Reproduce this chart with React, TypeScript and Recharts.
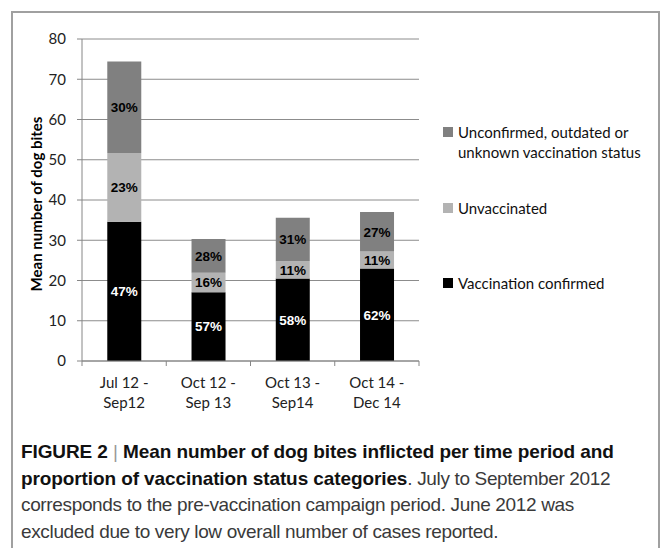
import React from 'react';
import {
  BarChart,
  Bar,
  XAxis,
  YAxis,
  CartesianGrid,
  LabelList
} from 'recharts';

// two-line period labels under each bar
const periodTop = ['Jul 12 -', 'Oct 12 -', 'Oct 13 -', 'Oct 14 -'];
const periodBottom = ['Sep12', 'Sep 13', 'Sep14', 'Dec 14'];

// mean number of bites per vaccination status (stack bottom to top)
const confirmed = [34.6, 17.1, 20.5, 23.0];
const unvaccinated = [17.1, 4.8, 4.3, 4.2];
const unconfirmed = [22.7, 8.4, 10.8, 9.8];

// share of each status within a period, in %
const confirmedPct = [47, 57, 58, 62];
const unvaccinatedPct = [23, 16, 11, 11];
const unconfirmedPct = [30, 28, 31, 27];

const yTicks = [0, 10, 20, 30, 40, 50, 60, 70, 80];

const seriesNames = {
  confirmed: 'Vaccination confirmed',
  unvaccinated: 'Unvaccinated',
  unconfirmed: 'Unconfirmed, outdated or unknown vaccination status'
};
const seriesColors = {
  confirmed: '#000000',
  unvaccinated: '#b3b3b3',
  unconfirmed: '#808080'
};

const data = periodTop.map((p, i) => ({
  period: p + ' ' + periodBottom[i],
  confirmed: confirmed[i],
  unvaccinated: unvaccinated[i],
  unconfirmed: unconfirmed[i],
  confirmedPct: confirmedPct[i],
  unvaccinatedPct: unvaccinatedPct[i],
  unconfirmedPct: unconfirmedPct[i]
}));

const axisGray = '#868686';
const excelFont = 'Lato, "DejaVu Sans", sans-serif';
const labelFont = '"Liberation Sans", Arial, sans-serif';

function PeriodTick(props: any) {
  const { x, y, payload, index, visibleTicksCount } = props;
  const half = payload && payload.offset ? payload.offset : 42;
  const last = index === visibleTicksCount - 1;
  return (
    <g>
      <line x1={x - half} x2={x - half} y1={y} y2={y + 5} stroke={axisGray} />
      {last && <line x1={x + half} x2={x + half} y1={y} y2={y + 5} stroke={axisGray} />}
      <text
        x={x}
        y={y}
        textAnchor='middle'
        fontFamily={excelFont}
        fontSize={15}
        fill='#222'
      >
        <tspan x={x} dy={27}>{periodTop[index]}</tspan>
        <tspan x={x} dy={20}>{periodBottom[index]}</tspan>
      </text>
    </g>
  );
}

function YTitle(props: any) {
  const { viewBox } = props;
  const cx = 36;
  const cy = viewBox.y + viewBox.height / 2 + 4;
  return (
    <text
      x={cx}
      y={cy}
      transform={`rotate(-90, ${cx}, ${cy})`}
      textAnchor='middle'
      dominantBaseline='central'
      fontFamily={excelFont}
      fontWeight='bold'
      fontSize={15}
      fill='#000'
    >
      Mean number of dog bites
    </text>
  );
}

const pctLabel = (v: any) => v + '%';

function LegendBlock() {
  const items: Array<keyof typeof seriesNames> = ['unconfirmed', 'unvaccinated', 'confirmed'];
  return (
    <div
      style={{
        position: 'absolute',
        left: 443,
        top: 122,
        width: 212,
        fontFamily: excelFont,
        fontSize: 15,
        color: '#111',
        lineHeight: '20px'
      }}
    >
      {items.map(k => (
        <div key={k} style={{ position: 'relative', height: 75.5 }}>
          <span
            style={{
              position: 'absolute',
              left: 0,
              top: 5,
              width: 10,
              height: 10,
              background: seriesColors[k]
            }}
          />
          <div style={{ marginLeft: 15, width: 195 }}>{seriesNames[k]}</div>
        </div>
      ))}
    </div>
  );
}

export default function App() {
  const plain = { letterSpacing: -0.35 };
  return (
    <div
      style={{
        position: 'absolute',
        left: 0,
        top: 0,
        width: 664,
        height: 548,
        overflow: 'hidden',
        background: '#fff'
      }}
    >
      <div
        style={{
          position: 'absolute',
          left: 11,
          top: 11,
          width: 645,
          height: 600,
          border: '2px solid #a0a0a0'
        }}
      />
      <div style={{ position: 'absolute', left: 0, top: 0 }}>
        <BarChart
          width={664}
          height={420}
          data={data}
          margin={{ top: 39, right: 245, bottom: 9, left: 0 }}
          barCategoryGap='30%'
        >
          <CartesianGrid horizontal vertical={false} stroke='#8c8c8c' />
          <XAxis
            dataKey='period'
            height={50}
            interval={0}
            tickLine={false}
            tickSize={0}
            tickMargin={0}
            axisLine={{ stroke: axisGray }}
            tick={<PeriodTick />}
          />
          <YAxis
            width={82}
            domain={[0, 80]}
            ticks={yTicks}
            interval={0}
            tickSize={5}
            tickMargin={11}
            tickLine={{ stroke: axisGray }}
            axisLine={{ stroke: axisGray }}
            tick={{ fontFamily: excelFont, fontSize: 15, fill: '#222' }}
            label={<YTitle />}
          />
          <Bar dataKey='confirmed' stackId='s' fill={seriesColors.confirmed} isAnimationActive={false}>
            <LabelList
              dataKey='confirmedPct'
              position='center'
              formatter={pctLabel}
              fill='#fff'
              fontFamily={labelFont}
              fontWeight='bold'
              fontSize={13.5}
            />
          </Bar>
          <Bar dataKey='unvaccinated' stackId='s' fill={seriesColors.unvaccinated} isAnimationActive={false}>
            <LabelList
              dataKey='unvaccinatedPct'
              position='center'
              formatter={pctLabel}
              fill='#000'
              fontFamily={labelFont}
              fontWeight='bold'
              fontSize={13.5}
            />
          </Bar>
          <Bar dataKey='unconfirmed' stackId='s' fill={seriesColors.unconfirmed} isAnimationActive={false}>
            <LabelList
              dataKey='unconfirmedPct'
              position='center'
              formatter={pctLabel}
              fill='#000'
              fontFamily={labelFont}
              fontWeight='bold'
              fontSize={13.5}
            />
          </Bar>
        </BarChart>
      </div>
      <LegendBlock />
      <div
        style={{
          position: 'absolute',
          left: 21,
          top: 439,
          width: 636,
          fontFamily: labelFont,
          fontSize: 19,
          lineHeight: '26.5px',
          color: '#3a3a3a',
          whiteSpace: 'nowrap',
          letterSpacing: -0.1
        }}
      >
        <b style={{ color: '#111' }}>FIGURE 2</b>
        <span style={{ color: '#999', fontWeight: 'normal' }}> | </span>
        <b style={{ color: '#111' }}>Mean number of dog bites inflicted per time period and</b>
        <br />
        <b style={{ color: '#111' }}>proportion of vaccination status categories</b>
        <span style={plain}>. July to September 2012</span>
        <br />
        <span style={plain}>corresponds to the pre-vaccination campaign period. June 2012 was</span>
        <br />
        <span style={plain}>excluded due to very low overall number of cases reported.</span>
      </div>
    </div>
  );
}
